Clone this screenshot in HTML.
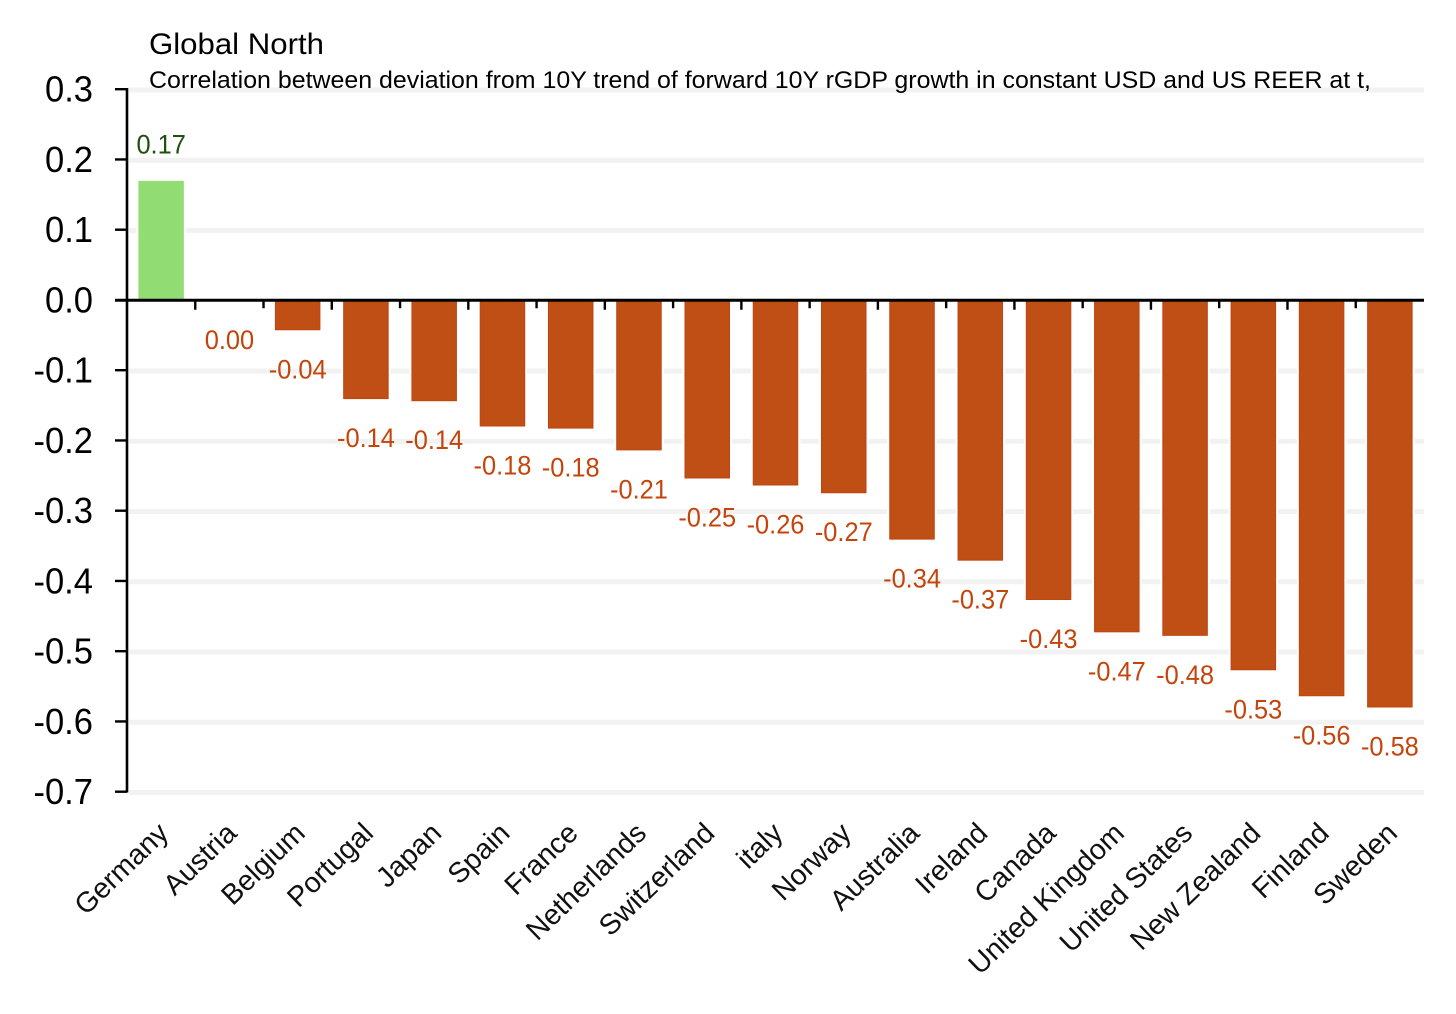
<!DOCTYPE html>
<html>
<head>
<meta charset="utf-8">
<title>Global North</title>
<style>
html,body{margin:0;padding:0;background:#fff;}
svg{display:block;font-family:"Liberation Sans",sans-serif;}
</style>
</head>
<body>
<svg id="chart" width="1456" height="1014" viewBox="0 0 1456 1014" xmlns="http://www.w3.org/2000/svg">
  <g id="titles">
    <text x="149" y="54" font-size="30" fill="#000" textLength="175" lengthAdjust="spacingAndGlyphs">Global North</text>
    <text x="149" y="88" font-size="24.5" fill="#000" textLength="1222" lengthAdjust="spacingAndGlyphs">Correlation between deviation from 10Y trend of forward 10Y rGDP growth in constant USD and US REER at t,</text>
  </g>
</svg>
<script>
const categories = ["Germany","Austria","Belgium","Portugal","Japan","Spain","France","Netherlands","Switzerland","italy","Norway","Australia","Ireland","Canada","United Kingdom","United States","New Zealand","Finland","Sweden"];
const correlationValues = [0.17,0,-0.042,-0.14,-0.143,-0.179,-0.182,-0.213,-0.253,-0.263,-0.274,-0.34,-0.37,-0.426,-0.472,-0.477,-0.526,-0.563,-0.579];
const yTicks = [0.3,0.2,0.1,0,-0.1,-0.2,-0.3,-0.4,-0.5,-0.6,-0.7];

const svg = document.getElementById('chart');
const NS = 'http://www.w3.org/2000/svg';
const left = 127, right = 1424, top0 = 90, bottom = 792.5;
const yScale = v => top0 + (0.3 - v) * (bottom - top0) / 1.0;
const step = (right - left) / categories.length;
const xScale = i => left + step * (i + 0.5);
const barW = 45.5;

function mk(tag, parent, attrs, text) {
  const el = document.createElementNS(NS, tag);
  for (const k in attrs) el.setAttribute(k, attrs[k]);
  if (text !== undefined) el.textContent = text;
  parent.appendChild(el);
  return el;
}

const gridG = mk('g', svg, {});


yTicks.forEach(t => {
  if (t === 0) return;
  const g = mk('line', gridG, {x1: left + 2, x2: right, y1: yScale(t), y2: yScale(t), stroke: '#f2f2f2', 'stroke-width': 5});
  
  
});

const barsG = mk('g', svg, {});


correlationValues.forEach((v, i) => {
  if (v === 0) return;
  const y0 = yScale(0), y1 = yScale(v);
  const halo = mk('rect', barsG, {
    x: xScale(i) - barW / 2 - 2,
    y: Math.min(y0, y1),
    width: barW + 4,
    height: Math.abs(y1 - y0),
    fill: '#fff'
  });
  
  
  const bar = mk('rect', barsG, {
    x: xScale(i) - barW / 2 + 0.5,
    y: Math.min(y0, y1),
    width: barW - 1,
    height: Math.abs(y1 - y0) - 0.5,
    fill: v >= 0 ? '#92dc74' : '#bf4f14',
    stroke: v >= 0 ? '#96dc7a' : '#c2430f',
    'stroke-width': 1
  });
  
  
});

const labelsG = mk('g', svg, {});


correlationValues.forEach((v, i) => {
  const by = v > 0 ? yScale(v) - 28 : yScale(v) + 48;
  const lbl = mk('text', labelsG, {
    transform: 'translate(' + xScale(i) + ',' + by + ') scale(0.94,1)',
    'text-anchor': 'middle',
    'font-size': 27,
    fill: v > 0 ? '#1e5010' : '#c4450c'
  }, v.toFixed(2));
  
  
});

const axisG = mk('g', svg, {});


const ySpine = mk('line', axisG, {x1: left, x2: left, y1: yScale(0.3) - 2, y2: yScale(-0.7), stroke: '#000', 'stroke-width': 2.6});


const xSpine = mk('line', axisG, {x1: 115, x2: right, y1: yScale(0) - 0.5, y2: yScale(0) - 0.5, stroke: '#000', 'stroke-width': 3});



yTicks.forEach(t => {
  const y = yScale(t) - 0.8;
  if (t !== 0) {
    const tk = mk('line', axisG, {x1: 115, x2: left, y1: y, y2: y, stroke: '#000', 'stroke-width': 2.4});
    
    
  }
  const lbl = mk('text', axisG, {
    transform: 'translate(93,' + (y + 12.5) + ') scale(0.96,1)',
    'text-anchor': 'end',
    'font-size': 36,
    fill: '#000'
  }, t.toFixed(1));
  
  
});

categories.forEach((c, i) => {
  if (i > 0) {
    const x = left + step * i;
    const tk = mk('line', axisG, {x1: x, x2: x, y1: yScale(0), y2: yScale(0) + (i % 2 ? 9 : 7.5), stroke: '#000', 'stroke-width': 2.4});
    
    
  }
  const lbl = mk('text', axisG, {
    transform: 'translate(' + (xScale(i) + 9) + ',835) rotate(-44)',
    'text-anchor': 'end',
    'font-size': 28.5,
    fill: '#111'
  }, c);
  
  
});

svg.appendChild(document.getElementById('titles'));
</script>
</body>
</html>
